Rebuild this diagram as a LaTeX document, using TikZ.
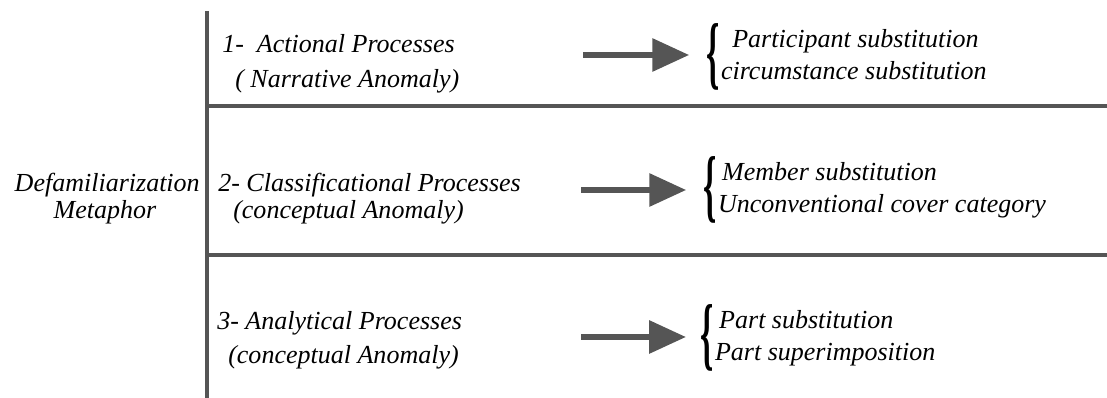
\documentclass[tikz,border=0pt]{standalone}
\usepackage{fontspec}
\setmainfont{Liberation Serif}
\usepackage{tikz}
\usetikzlibrary{arrows.meta, positioning}

\definecolor{rulegray}{HTML}{555555}
\newcommand{\bigfont}{\fontsize{18.5}{22.5}\selectfont\itshape}
\newcommand{\tallbrace}{$\vcenter{\hbox{\upshape\bfseries\scalebox{1.3}[3.1]{\{}}}$}

\begin{document}
\begin{tikzpicture}[x=0.025cm, y=-0.025cm,
    rule/.style={draw=rulegray, line width=2.2pt},
    proc/.style={anchor=base west, inner sep=0pt, font=\bigfont},
    group/.style={anchor=west, inner sep=0pt, font=\bigfont},
    bigarrow/.style={-{Triangle[length=0.92cm, width=0.8cm]}, draw=rulegray, line width=4.2pt, shorten >=0.42cm},
]
    \useasboundingbox (0,0) rectangle (1107,398);

    % grid lines
    \coordinate (top) at (207,11);
    \coordinate (bot) at (207,398);
    \coordinate (r1) at (207,106);
    \coordinate (r2) at (207,255);
    \draw[rule] (top) -- (bot);
    \draw[rule] (r1) -- (1107,106);
    \draw[rule] (r2) -- (1107,255);

    % left title
    \node[anchor=base east, inner sep=0pt, font=\bigfont] (dt) at (200,192) {Defamiliarization};
    \node[anchor=base, inner sep=0pt, font=\bigfont] (mt) at (105,219) {Metaphor};

    % process types
    \node[proc] (p1) at (222,53) {1-\ \ Actional Processes};
    \node[proc] (p1b) at (235,88) {( Narrative Anomaly)};
    \node[proc] (p2) at (218,192) {2- Classificational Processes};
    \node[proc] (p2b) at (233,219) {(conceptual Anomaly)};
    \node[proc] (p3) at (217,330) {3- Analytical Processes};
    \node[proc] (p3b) at (228,364) {(conceptual Anomaly)};

    % anomaly groups
    \node[group] (g1) at (706,57) {\tallbrace\begin{tabular}{@{\hspace{1pt}}l@{}}\hspace{8pt}Participant substitution\\circumstance substitution\end{tabular}};
    \node[group] (g2) at (703,190) {\tallbrace\begin{tabular}{@{\hspace{1pt}}l@{}}\hspace{3pt}Member substitution\\Unconventional cover category\end{tabular}};
    \node[group] (g3) at (700,338) {\tallbrace\begin{tabular}{@{\hspace{1pt}}l@{}}\hspace{3pt}Part substitution\\Part superimposition\end{tabular}};

    % arrows
    \coordinate (a1) at (583,55);
    \coordinate (a2) at (581,190);
    \coordinate (a3) at (581,337);
    \draw[bigarrow] (a1) -- (g1.west |- a1);
    \draw[bigarrow] (a2) -- (g2.west |- a2);
    \draw[bigarrow, shorten >=0.35cm] (a3) -- (g3.west |- a3);
\end{tikzpicture}
\end{document}
